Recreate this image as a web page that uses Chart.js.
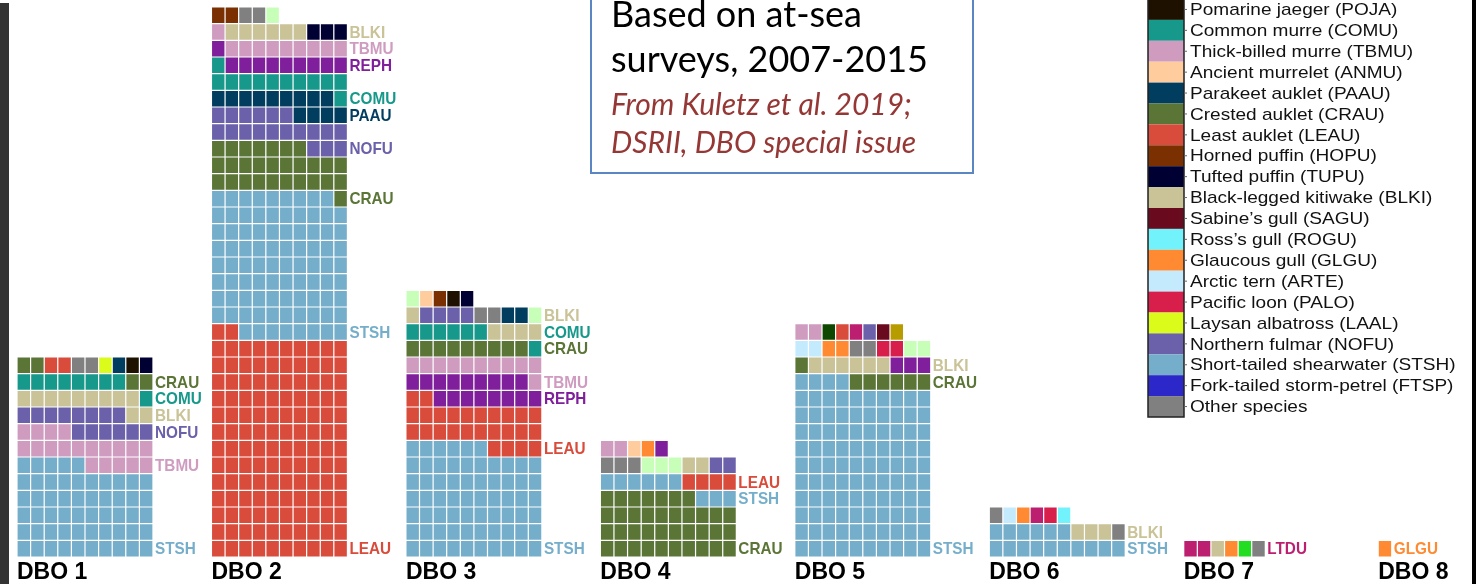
<!DOCTYPE html>
<html>
<head>
<meta charset="utf-8">
<script src="https://cdn.jsdelivr.net/npm/chart.js@4.4.1/dist/chart.umd.min.js"></script>
<style>
  html, body { margin: 0; padding: 0; background: #fff; }
  #wrap { width: 1476px; height: 584px; position: relative; overflow: hidden; }
</style>
</head>
<body>
<div id="wrap"><canvas id="waffle" width="1476" height="584"></canvas></div>
<script>
// sitios DBO (de izquierda a derecha)
const sites = ['DBO 1', 'DBO 2', 'DBO 3', 'DBO 4', 'DBO 5', 'DBO 6', 'DBO 7', 'DBO 8'];

// especies y cuadros por sitio, en orden de llenado (abajo-izquierda hacia arriba)
const dbo1Species = ['STSH', 'TBMU', 'NOFU', 'BLKI', 'COMU', 'CRAU', 'LEAU', 'OTHR', 'LAAL', 'PAAU', 'POJA', 'TUPU'];
const dbo1Counts  = [55, 19, 14, 11, 9, 4, 2, 2, 1, 1, 1, 1];
const dbo1Labels  = ['STSH', 'TBMU', 'NOFU', 'BLKI', 'COMU', 'CRAU'];

const dbo2Species = ['LEAU', 'STSH', 'CRAU', 'NOFU', 'PAAU', 'COMU', 'REPH', 'TBMU', 'BLKI', 'TUPU', 'HOPU', 'OTHR', 'LGRN'];
const dbo2Counts  = [132, 87, 28, 19, 13, 12, 10, 10, 6, 3, 2, 2, 1];
const dbo2Labels  = ['LEAU', 'STSH', 'CRAU', 'NOFU', 'PAAU', 'COMU', 'REPH', 'TBMU', 'BLKI'];

const dbo3Species = ['STSH', 'LEAU', 'REPH', 'TBMU', 'CRAU', 'COMU', 'BLKI', 'NOFU', 'OTHR', 'PAAU', 'LGRN', 'ANMU', 'HOPU', 'POJA', 'TUPU'];
const dbo3Counts  = [66, 26, 17, 11, 9, 7, 5, 4, 2, 2, 2, 1, 1, 1, 1];
const dbo3Labels  = ['STSH', 'LEAU', 'REPH', 'TBMU', 'CRAU', 'COMU', 'BLKI'];

const dbo4Species = ['CRAU', 'STSH', 'LEAU', 'OTHR', 'LGRN', 'BLKI', 'NOFU', 'TBMU', 'ANMU', 'GLGU', 'REPH'];
const dbo4Counts  = [37, 9, 4, 3, 3, 2, 2, 2, 1, 1, 1];
const dbo4Labels  = ['CRAU', 'STSH', 'LEAU'];

const dbo5Species = ['STSH', 'CRAU', 'BLKI', 'REPH', 'ARTE', 'GLGU', 'OTHR', 'PALO', 'LGRN', 'TBMU', 'DGRN', 'LEAU', 'LTDU', 'NOFU', 'SAGU', 'GOLD'];
const dbo5Counts  = [104, 7, 6, 3, 2, 2, 2, 2, 2, 2, 1, 1, 1, 1, 1, 1];
const dbo5Labels  = ['STSH', 'CRAU', 'BLKI'];

const dbo6Species = ['STSH', 'BLKI', 'OTHR', 'ARTE', 'GLGU', 'LTDU', 'PALO', 'ROGU'];
const dbo6Counts  = [16, 3, 2, 1, 1, 1, 1, 1];
const dbo6Labels  = ['STSH', 'BLKI'];

const dbo7Species = ['LTDU', 'BLKI', 'GLGU', 'BGRN', 'OTHR'];
const dbo7Counts  = [2, 1, 1, 1, 1];
const dbo7Labels  = ['LTDU'];

const dbo8Species = ['GLGU'];
const dbo8Counts  = [1];
const dbo8Labels  = ['GLGU'];

// leyenda (parte visible)
const legendCodes = ['POJA', 'COMU', 'TBMU', 'ANMU', 'PAAU', 'CRAU', 'LEAU', 'HOPU', 'TUPU', 'BLKI',
                     'SAGU', 'ROGU', 'GLGU', 'ARTE', 'PALO', 'LAAL', 'NOFU', 'STSH', 'FTSP', 'OTHR'];
const legendNames = ['Pomarine jaeger (POJA)', 'Common murre (COMU)', 'Thick-billed murre (TBMU)',
  'Ancient murrelet (ANMU)', 'Parakeet auklet (PAAU)', 'Crested auklet (CRAU)', 'Least auklet (LEAU)',
  'Horned puffin (HOPU)', 'Tufted puffin (TUPU)', 'Black-legged kitiwake (BLKI)', 'Sabine\u2019s gull (SAGU)',
  'Ross\u2019s gull (ROGU)', 'Glaucous gull (GLGU)', 'Arctic tern (ARTE)', 'Pacific loon (PALO)',
  'Laysan albatross (LAAL)', 'Northern fulmar (NOFU)', 'Short-tailed shearwater (STSH)',
  'Fork-tailed storm-petrel (FTSP)', 'Other species'];

// colores por especie
const colores = {
  POJA: '#1e1100', COMU: '#16998a', TBMU: '#cf9cc0', ANMU: '#ffcc9e', PAAU: '#003d5e',
  CRAU: '#5a7536', LEAU: '#d94b3b', HOPU: '#7a3000', TUPU: '#000033', BLKI: '#c9c397',
  SAGU: '#6a0a1e', ROGU: '#72f3fb', GLGU: '#ff8a32', ARTE: '#c4ebfd', PALO: '#d81f4c',
  LAAL: '#dbfb1a', NOFU: '#6a61aa', STSH: '#75aeca', FTSP: '#2b27c9', OTHR: '#808080',
  REPH: '#801f9b', LTDU: '#bd1f70', LGRN: '#c8ffb8', DGRN: '#0e4700', GOLD: '#b79c00', BGRN: '#22dd22'
};

const COLS = 10;        // cuadros por fila
const GROUP = 14.3;     // separación entre sitios, en columnas
const ROWS = 33;

const siteSpecies = [dbo1Species, dbo2Species, dbo3Species, dbo4Species, dbo5Species, dbo6Species, dbo7Species, dbo8Species];
const siteCounts  = [dbo1Counts, dbo2Counts, dbo3Counts, dbo4Counts, dbo5Counts, dbo6Counts, dbo7Counts, dbo8Counts];
const siteLabels  = [dbo1Labels, dbo2Labels, dbo3Labels, dbo4Labels, dbo5Labels, dbo6Labels, dbo7Labels, dbo8Labels];

// armar un dataset por especie, cada cuadro es una barra flotante
const porEspecie = {};
const etiquetas = [];
siteSpecies.forEach((lista, s) => {
    let k = 0;
    let ultimaFila = -1;
    const total = siteCounts[s].reduce((a, b) => a + b, 0);
    lista.forEach((code, i) => {
        const n = siteCounts[s][i];
        if (!porEspecie[code]) porEspecie[code] = [];
        if (siteLabels[s].includes(code)) {
            let fila = Math.floor(k / COLS);
            if (fila <= ultimaFila) fila = ultimaFila + 1;
            ultimaFila = fila;
            etiquetas.push({ code, x: s * GROUP + Math.min(total, COLS), fila });
        }
        for (let j = 0; j < n; j++) {
            const idx = k + j;
            const fila = Math.floor(idx / COLS);
            const col = idx % COLS;
            porEspecie[code].push({ x: s * GROUP + col + 0.5, y: [fila, fila + 1] });
        }
        k += n;
    });
});

const datasets = Object.keys(porEspecie).map(code => ({
    label: code,
    data: porEspecie[code],
    backgroundColor: colores[code]
}));

// textos, cuadro y leyenda
const decoracion = {
    id: 'decoracion',
    beforeDraw(chart) {
        const ctx = chart.ctx;
        ctx.save();
        ctx.fillStyle = '#333';
        ctx.fillRect(0, 3, 9, 581);
        ctx.fillStyle = '#000';
        ctx.fillRect(1472, 0, 4, 584);
        ctx.restore();
    },
    afterDraw(chart) {
        const ctx = chart.ctx;
        const xs = chart.scales.x;
        const ys = chart.scales.y;
        ctx.save();

        // etiquetas de especies
        ctx.font = 'bold 17px "Liberation Sans", Arial, sans-serif';
        ctx.textBaseline = 'middle';
        ctx.textAlign = 'left';
        etiquetas.forEach(e => {
            ctx.save();
            ctx.translate(xs.getPixelForValue(e.x) + 2, ys.getPixelForValue(e.fila + 0.5) + 1);
            ctx.scale(0.9, 1);
            ctx.fillStyle = colores[e.code];
            ctx.fillText(e.code, 0, 0);
            ctx.restore();
        });

        // nombres de sitios
        ctx.font = 'bold 23px "Liberation Sans", Arial, sans-serif';
        ctx.textBaseline = 'alphabetic';
        ctx.fillStyle = '#000';
        sites.forEach((nombre, s) => {
            ctx.fillText(nombre, xs.getPixelForValue(s * GROUP), 579);
        });

        // cuadro de texto
        ctx.fillStyle = '#fff';
        ctx.fillRect(591, -5, 382, 178);
        ctx.strokeStyle = '#5a86c4';
        ctx.lineWidth = 2;
        ctx.strokeRect(591, -5, 382, 178);
        ctx.fillStyle = '#000';
        ctx.font = '36px Lato, "Open Sans", sans-serif';
        ctx.fillText('Based on at-sea', 611, 27);
        ctx.fillText('surveys, 2007-2015', 611, 72);
        ctx.fillStyle = '#953735';
        ctx.font = 'italic 30px Lato, "Open Sans", sans-serif';
        ctx.fillText('From Kuletz et al. 2019;', 611, 115);
        ctx.fillText('DSRII, DBO special issue', 611, 153);

        // leyenda
        const lx = 1148, lw = 36, paso = 20.9, y0 = -1;
        legendCodes.forEach((code, i) => {
            ctx.fillStyle = colores[code];
            ctx.fillRect(lx, y0 + i * paso, lw, paso);
        });
        ctx.strokeStyle = '#222';
        ctx.lineWidth = 1.5;
        ctx.strokeRect(lx, y0, lw, paso * legendCodes.length);
        ctx.font = '17px "Liberation Sans", Arial, sans-serif';
        ctx.textBaseline = 'middle';
        legendNames.forEach((nombre, i) => {
            const yc = y0 + i * paso + paso / 2;
            ctx.strokeStyle = '#666';
            ctx.lineWidth = 1;
            ctx.beginPath();
            ctx.moveTo(lx + lw, yc);
            ctx.lineTo(lx + lw + 3, yc);
            ctx.stroke();
            ctx.save();
            ctx.translate(1190, yc + 1);
            ctx.scale(1.12, 1);
            ctx.fillStyle = '#111';
            ctx.fillText(nombre, 0, 0);
            ctx.restore();
        });
        ctx.restore();
    }
};

new Chart(document.getElementById('waffle'), {
    type: 'bar',
    data: { datasets },
    options: {
        responsive: false,
        animation: false,
        layout: { padding: { left: 17, right: 4, top: 7, bottom: 27 } },
        plugins: { legend: { display: false }, tooltip: { enabled: false } },
        datasets: {
            bar: {
                grouped: false,
                categoryPercentage: 1,
                barPercentage: 1,
                borderWidth: 0.6,
                borderColor: '#ffffff',
                borderSkipped: false,
                inflateAmount: 0
            }
        },
        scales: {
            x: { type: 'linear', min: 0, max: 107, offset: false, grid: { offset: false }, display: false },
            y: { type: 'linear', min: 0, max: ROWS, display: false }
        }
    },
    plugins: [decoracion]
});
</script>
</body>
</html>
